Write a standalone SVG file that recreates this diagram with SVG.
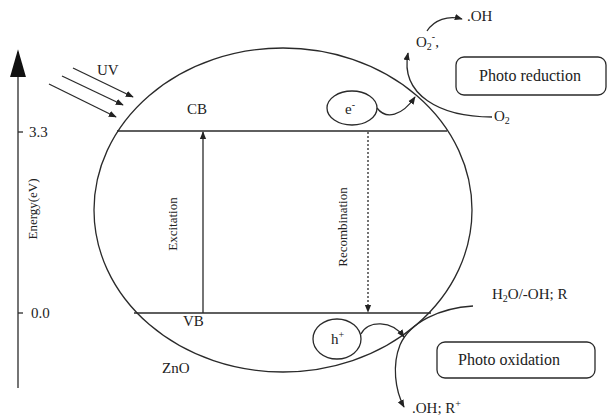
<svg xmlns="http://www.w3.org/2000/svg" width="607" height="415" viewBox="0 0 607 415">
<style>
.l{fill:none;stroke:#2a2a2a;stroke-width:1.3}
.t{font-family:"Liberation Serif","DejaVu Serif",serif;font-size:15px;fill:#222}
.s{font-size:10px}
.r{font-size:13px}
.b{font-size:16px}
</style>
<defs>
<marker id="ah" viewBox="0 0 10 10" refX="9" refY="5" markerWidth="8" markerHeight="8" orient="auto" markerUnits="userSpaceOnUse"><path d="M0,1 L10,5 L0,9 Z" fill="#222"/></marker>
<marker id="big" viewBox="0 0 10 10" refX="9" refY="5" markerWidth="28" markerHeight="16" orient="auto" markerUnits="userSpaceOnUse" preserveAspectRatio="none"><path d="M0,0 L10,5 L0,10 Z" fill="#111"/></marker>
</defs>
<rect width="607" height="415" fill="#fff"/>
<g id="axis">
<line class="l" x1="18" y1="388" x2="18" y2="52" stroke-width="2" marker-end="url(#big)"/>
<line class="l" x1="18" y1="132" x2="23" y2="132"/>
<line class="l" x1="18" y1="313" x2="23" y2="313"/>
<text class="t" x="29" y="137">3.3</text>
<text class="t" x="31" y="318">0.0</text>
<text class="t r" transform="translate(37,209) rotate(-90)" text-anchor="middle">Energy(eV)</text>
</g>
<g id="uv">
<text class="t" x="97" y="75">UV</text>
</g>
<g id="particle">
<ellipse class="l" cx="283" cy="210" rx="189" ry="162"/>
<text class="t" x="187" y="114">CB</text>
<text class="t" x="183" y="326">VB</text>
<text class="t" x="162" y="373">ZnO</text>
</g>
<g id="cb"><line class="l" x1="117" y1="131" x2="447" y2="131"/></g>
<g id="vb"><line class="l" x1="134" y1="313" x2="431" y2="313"/></g>
<g id="electron">
<ellipse class="l" cx="352" cy="108" rx="25" ry="17"/>
<text class="t" x="345" y="114">e<tspan class="s" dy="-6">-</tspan></text>
</g>
<g id="hole">
<ellipse class="l" cx="337" cy="339" rx="24" ry="20"/>
<text class="t" x="331" y="344">h<tspan class="s" dy="-6">+</tspan></text>
</g>
<g id="reduction">
<rect class="l" x="456" y="57" width="150" height="38" rx="8"/>
<text class="t b" x="530" y="81" text-anchor="middle">Photo reduction</text>
</g>
<g id="oxidation">
<rect class="l" x="437" y="342" width="158" height="36" rx="8"/>
<text class="t b" x="509" y="365" text-anchor="middle">Photo oxidation</text>
</g>
<g id="labels">
<text class="t" x="416" y="47">O<tspan class="s" dy="3">2</tspan><tspan class="s" dy="-10">-</tspan><tspan dy="7">,</tspan></text>
<text class="t" x="467" y="21">.OH</text>
<text class="t" x="494" y="121">O<tspan class="s" dy="3">2</tspan></text>
<text class="t" x="492" y="299">H<tspan class="s" dy="3">2</tspan><tspan dy="-3">O/-OH; R</tspan></text>
<text class="t" x="412" y="413">.OH; R<tspan class="s" dy="-6">+</tspan></text>
<text class="t r" transform="translate(177,224) rotate(-90)" text-anchor="middle">Excitation</text>
<text class="t r" transform="translate(347,227) rotate(-90)" text-anchor="middle">Recombination</text>
</g>
<g id="connectors">
<line class="l" x1="73" y1="68" x2="133" y2="97" marker-end="url(#ah)"/>
<line class="l" x1="62" y1="76" x2="123" y2="105" marker-end="url(#ah)"/>
<line class="l" x1="49" y1="84" x2="116" y2="117" marker-end="url(#ah)"/>
<line class="l" x1="203" y1="313" x2="203" y2="132" marker-end="url(#ah)"/>
<line class="l" x1="368" y1="132" x2="368" y2="312" stroke-dasharray="2,2" marker-end="url(#ah)"/>
<path class="l" d="M377,108 C386,120 402,116 415,97" marker-end="url(#ah)"/>
<path class="l" d="M492,117 C440,117 400,95 408,53" marker-end="url(#ah)"/>
<path class="l" d="M427,31 C434,20 448,15 462,19" marker-end="url(#ah)"/>
<path class="l" d="M361,334 C368,320 392,320 404,337" marker-end="url(#ah)"/>
<path class="l" d="M473,306 C440,308 410,322 400,345 C392,365 395,390 404,407" marker-end="url(#ah)"/>
</g>
</svg>
